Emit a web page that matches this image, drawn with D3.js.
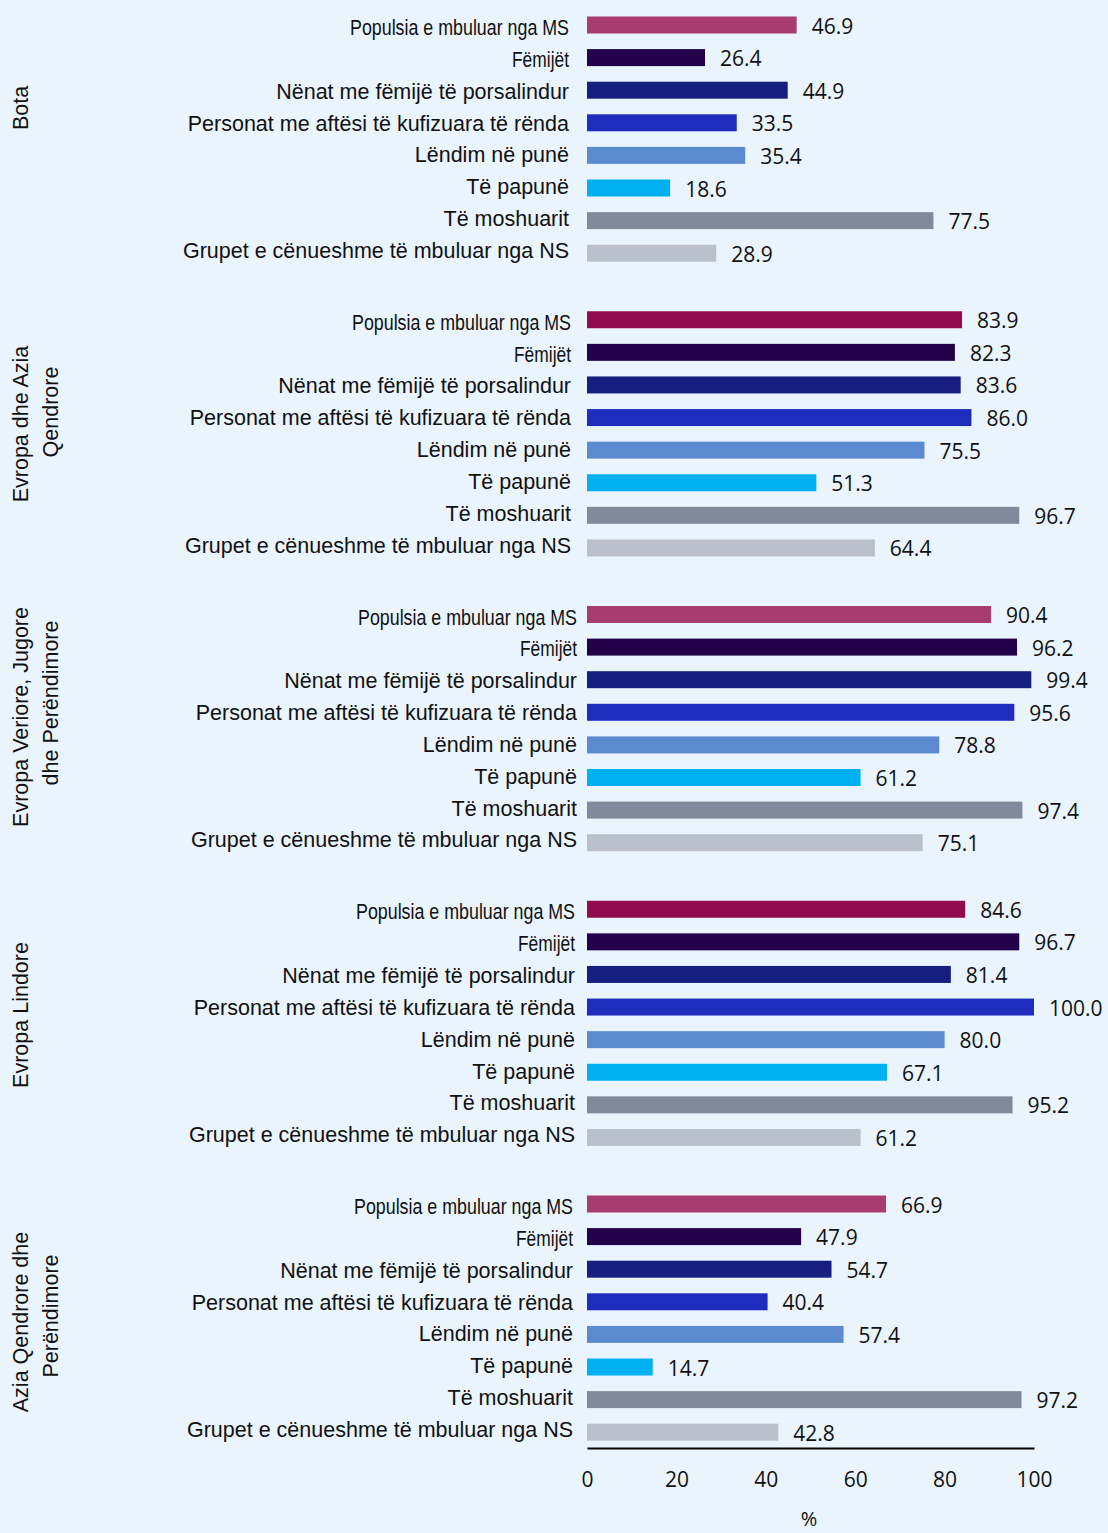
<!DOCTYPE html>
<html>
<head>
<meta charset="utf-8">
<script src="https://cdn.jsdelivr.net/npm/d3@7"></script>
<style>
  html, body { margin: 0; padding: 0; background: #eaf4fd; }
  svg { display: block; }
</style>
</head>
<body>
<svg id="chart" width="1108" height="1533"></svg>
<script>
// ---- Data ----
const categories = [
  "Populsia e mbuluar nga MS",
  "Fëmijët",
  "Nënat me fëmijë të porsalindur",
  "Personat me aftësi të kufizuara të rënda",
  "Lëndim në punë",
  "Të papunë",
  "Të moshuarit",
  "Grupet e cënueshme të mbuluar nga NS"
];
const regions = [
  ["Bota"],
  ["Evropa dhe Azia", "Qendrore"],
  ["Evropa Veriore, Jugore", "dhe Perëndimore"],
  ["Evropa Lindore"],
  ["Azia Qendrore dhe", "Perëndimore"]
];
const valuesBota       = [46.9, 26.4, 44.9, 33.5, 35.4, 18.6, 77.5, 28.9];
const valuesEvropaAzia = [83.9, 82.3, 83.6, 86.0, 75.5, 51.3, 96.7, 64.4];
const valuesEvropaVJP  = [90.4, 96.2, 99.4, 95.6, 78.8, 61.2, 97.4, 75.1];
const valuesEvropaL    = [84.6, 96.7, 81.4, 100.0, 80.0, 67.1, 95.2, 61.2];
const valuesAziaQP     = [66.9, 47.9, 54.7, 40.4, 57.4, 14.7, 97.2, 42.8];
const seriesValues = [valuesBota, valuesEvropaAzia, valuesEvropaVJP, valuesEvropaL, valuesAziaQP];
const xTicks = [0, 20, 40, 60, 80, 100];
const xAxisTitle = "%";

// ---- Styles / layout ----
const colorsLight = ["#a83c70", "#22004a", "#161f80", "#1f2dbd", "#5b8ad0", "#00b0f0", "#7f8a9b", "#b9c0cb"];
const colorsDark  = ["#920b4f", "#22004a", "#161f80", "#1f2dbd", "#5b8ad0", "#00b0f0", "#7f8a9b", "#b9c0cb"];
const panelColors = [colorsLight, colorsDark, colorsLight, colorsDark, colorsLight];
const panelTop0 = 8.7, panelPitch = 294.75, rowPitch = 32.6;
const labelRight = [569, 571, 577, 575, 573];
const regionLabelCenters = [[108], [424, 412], [717, 703], [1015], [1322, 1316]];
const labelFont = "'Liberation Sans', Arial, sans-serif";
const valueFont = "'Open Sans', Carlito, Lato, sans-serif";
const labelSize = 21.5, valueSize = 21;

const svg = d3.select("#chart");
svg.append("rect").attr("width", 1108).attr("height", 1533).attr("fill", "#eaf4fd");

const x = d3.scaleLinear().domain([0, 100]).range([587, 1034]);

seriesValues.forEach((vals, p) => {
  const top = panelTop0 + p * panelPitch;
  const y = d3.scaleBand()
    .domain(categories)
    .range([top, top + categories.length * rowPitch])
    .paddingInner(0.479)
    .paddingOuter(0.2395);
  const g = svg.append("g");
  const rows = categories.map((c, i) => ({ c, v: vals[i], i }));

  g.selectAll("rect.bar").data(rows).join("rect")
    .attr("class", "bar")
    .attr("x", x(0))
    .attr("y", d => y(d.c))
    .attr("width", d => x(d.v) - x(0))
    .attr("height", y.bandwidth())
    .attr("fill", d => panelColors[p][d.i]);

  g.selectAll("text.val").data(rows).join("text")
    .attr("class", "val")
    .attr("x", d => x(d.v) + 15)
    .attr("y", d => y(d.c) + y.bandwidth() / 2 + 8.5)
    .attr("font-family", valueFont)
    .attr("font-size", valueSize)
    .attr("fill", "#111")
    .text(d => d.v.toFixed(1));

  // category labels sit on a slightly tighter pitch than the bars
  g.selectAll("text.cat").data(rows).join("text")
    .attr("class", "cat")
    .attr("x", labelRight[p])
    .attr("y", d => y(d.c) + y.bandwidth() / 2 + 10 - d.i * 0.75)
    .attr("text-anchor", "end")
    .attr("font-family", labelFont)
    .attr("font-size", labelSize)
    .attr("fill", "#111")
    .each(function(d) {
      if (d.i === 0) d3.select(this).attr("textLength", 219).attr("lengthAdjust", "spacingAndGlyphs");
      if (d.i === 1) d3.select(this).attr("textLength", 57).attr("lengthAdjust", "spacingAndGlyphs");
    })
    .text(d => d.c);

  regions[p].forEach((line, li) => {
    const cy = regionLabelCenters[p][li];
    const bx = 28 + li * 30;
    svg.append("text")
      .attr("transform", `translate(${bx},${cy}) rotate(-90)`)
      .attr("text-anchor", "middle")
      .attr("font-family", labelFont)
      .attr("font-size", labelSize)
      .attr("fill", "#111")
      .text(line);
  });
});

// x axis
const axisG = svg.append("g").attr("transform", "translate(0,1448)");
axisG.call(d3.axisBottom(x).tickValues(xTicks).tickSize(0).tickPadding(24).tickFormat(d3.format("d")));
axisG.select(".domain").attr("stroke", "#000").attr("stroke-width", 2);
axisG.selectAll(".tick text")
  .attr("font-family", valueFont)
  .attr("font-size", valueSize)
  .attr("fill", "#111");

svg.append("text")
  .attr("x", 809).attr("y", 1526)
  .attr("text-anchor", "middle")
  .attr("font-family", valueFont)
  .attr("font-size", 20)
  .attr("fill", "#111")
  .text(xAxisTitle);
</script>
</body>
</html>
